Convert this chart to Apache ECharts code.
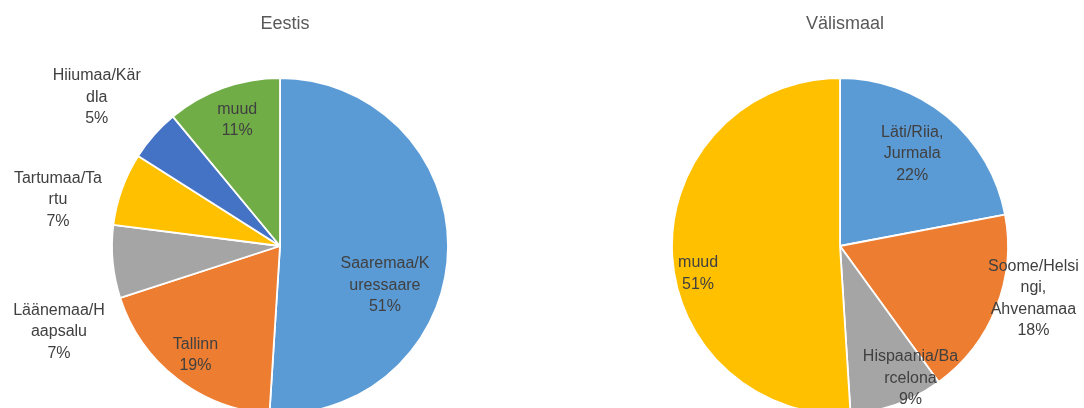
<!DOCTYPE html>
<html>
<head>
<meta charset="utf-8">
<script src="https://cdn.jsdelivr.net/npm/echarts@6/dist/echarts.min.js"></script>
<style>
html,body{margin:0;padding:0;background:#fff;}
#chart{width:1084px;height:408px;}
</style>
</head>
<body>
<div id="chart"></div>
<script>
// ---- data ----
var eestiNames = ['Saaremaa/Kuressaare', 'Tallinn', 'Läänemaa/Haapsalu', 'Tartumaa/Tartu', 'Hiiumaa/Kärdla', 'muud'];
var eestiLabels = ['Saaremaa/K\nuressaare', 'Tallinn', 'Läänemaa/H\naapsalu', 'Tartumaa/Ta\nrtu', 'Hiiumaa/Kär\ndla', 'muud'];
var eestiValues = [51, 19, 7, 7, 5, 11];

var valisNames = ['Läti/Riia, Jurmala', 'Soome/Helsingi, Ahvenamaa', 'Hispaania/Barcelona', 'muud'];
var valisLabels = ['Läti/Riia,\nJurmala', 'Soome/Helsi\nngi,\nAhvenamaa', 'Hispaania/Ba\nrcelona', 'muud'];
var valisValues = [22, 18, 9, 51];

var titles = ['Eestis', 'Välismaal'];

// ---- styles / layout ----
var eestiColors = ['#5B9BD5', '#ED7D31', '#A5A5A5', '#FFC000', '#4472C4', '#70AD47'];
var valisColors = ['#5B9BD5', '#ED7D31', '#A5A5A5', '#FFC000'];
var R = 168;
var eestiCenter = [280, 246];
var valisCenter = [840, 246];
// label radial distance and fine offset per slice
var eestiLabelLayout = [
  {d: 106, off: [-4, 36]},
  {d: 135, off: [0, 0]},
  {d: 220, off: [1, 65]},
  {d: 233, off: [0, 34]},
  {d: 240, off: [-1, 12]},
  {d: 135, off: [4, 4]}
];
var valisLabelLayout = [
  {d: 115, off: [-3, -1]},
  {d: 205, off: [0, -24]},
  {d: 140, off: [22, -2]},
  {d: 142, off: [3, 23]}
];

var textStyle = {fontFamily: 'Liberation Sans', fontSize: 16, color: '#404040', lineHeight: 21.5};

function mainPie(names, values, colors, center) {
  return {
    type: 'pie', center: center, radius: [0, R], startAngle: 90, clockwise: true,
    avoidLabelOverlap: false, silent: true, animation: false,
    label: {show: false}, labelLine: {show: false},
    itemStyle: {borderColor: '#ffffff', borderWidth: 1.8},
    data: names.map(function (n, i) {
      return {name: n, value: values[i], itemStyle: {color: colors[i]}};
    })
  };
}

function labelPies(names, labels, values, center, layout) {
  return layout.map(function (lay, k) {
    return {
      type: 'pie', center: center, radius: [0, 2 * lay.d], startAngle: 90, clockwise: true,
      avoidLabelOverlap: false, silent: true, animation: false, percentPrecision: 0,
      itemStyle: {color: 'rgba(0,0,0,0)', borderWidth: 0},
      labelLine: {show: false},
      emphasis: {disabled: true},
      label: {show: false},
      data: names.map(function (n, i) {
        var item = {name: n, value: values[i]};
        if (i === k) {
          item.label = Object.assign({
            show: true, position: 'inside', align: 'center', verticalAlign: 'middle',
            offset: lay.off,
            formatter: function (p) { return labels[p.dataIndex] + '\n' + p.percent + '%'; }
          }, textStyle);
        }
        return item;
      })
    };
  });
}

var chart = echarts.init(document.getElementById('chart'), null, {renderer: 'canvas'});
var series = [mainPie(eestiNames, eestiValues, eestiColors, eestiCenter),
              mainPie(valisNames, valisValues, valisColors, valisCenter)]
  .concat(labelPies(eestiNames, eestiLabels, eestiValues, eestiCenter, eestiLabelLayout))
  .concat(labelPies(valisNames, valisLabels, valisValues, valisCenter, valisLabelLayout));

chart.setOption({
  backgroundColor: '#ffffff',
  animation: false,
  title: [
    {text: titles[0], left: eestiCenter[0], top: 10, textAlign: 'center',
     textStyle: {fontFamily: 'Liberation Sans', fontSize: 18, fontWeight: 'normal', color: '#595959'}},
    {text: titles[1], left: valisCenter[0], top: 10, textAlign: 'center',
     textStyle: {fontFamily: 'Liberation Sans', fontSize: 18, fontWeight: 'normal', color: '#595959'}}
  ],
  series: series
});
</script>
</body>
</html>
